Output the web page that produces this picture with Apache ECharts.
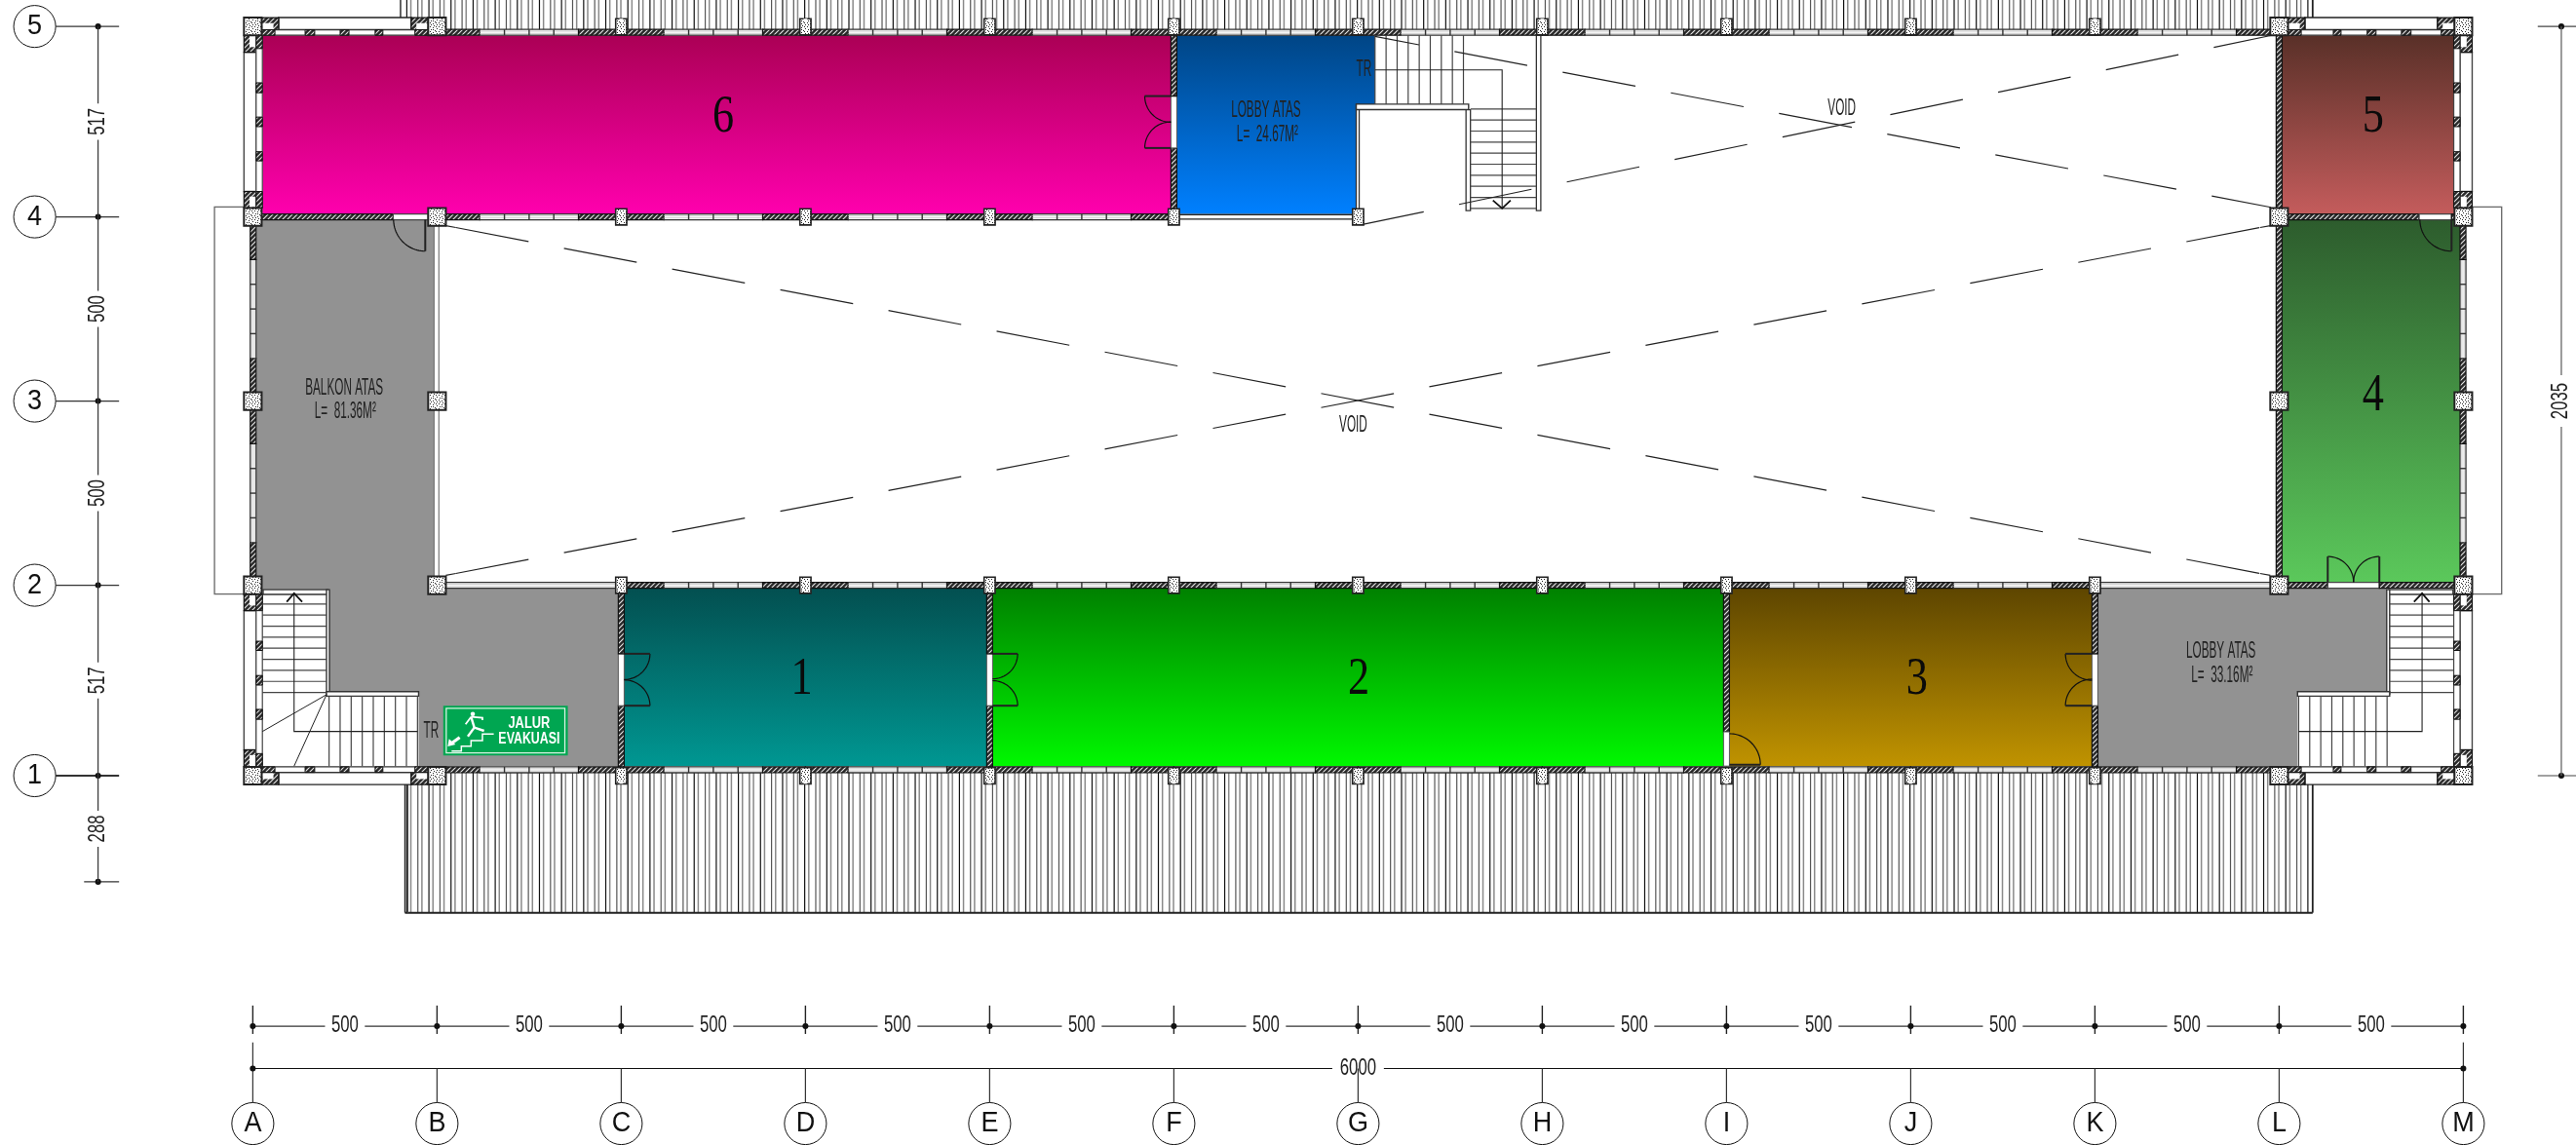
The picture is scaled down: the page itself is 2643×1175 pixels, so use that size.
<!DOCTYPE html>
<html>
<head>
<meta charset="utf-8">
<style>html,body{margin:0;padding:0;background:#fff}#c{width:2643px;height:1175px}</style>
<script src="https://cdn.jsdelivr.net/npm/echarts@6/dist/echarts.min.js"></script>
</head>
<body>
<div id="c"></div>
<script>
// ---- plan data, all in plan units (cm) with axis A = 0 and axis 1 = 0 ----
const colLabels = ['A','B','C','D','E','F','G','H','I','J','K','L','M'];
const colSpans = [500,500,500,500,500,500,500,500,500,500,500,500];
const rowLabels = ['1','2','3','4','5'];
const rowSpans = [517,500,500,517];
const overhangSpan = 288;
const totalWidthLabel = '6000';
const totalHeightLabel = '2035';

const rooms = [
  {name:'6', at:[1277,1785], pts:[[26,1525],[2492,1525],[2492,2010],[26,2010]], grad:['#ab0055','#ff00ae']},
  {name:'1', at:[1490,260], pts:[[1008,26],[1992,26],[1992,511],[1008,511]], grad:['#034f50','#009792']},
  {name:'2', at:[3002,260], pts:[[2008,26],[3992,26],[3992,511],[2008,511]], grad:['#008000','#00f800']},
  {name:'3', at:[4517,260], pts:[[4008,26],[4992,26],[4992,511],[4008,511]], grad:['#5d4500','#c09300']},
  {name:'5', at:[5755,1785], pts:[[5508,1525],[5975,1525],[5975,2010],[5508,2010]], grad:['#593028','#c45c5c']},
  {name:'4', at:[5755,1030], pts:[[5508,526],[5992,526],[5992,1510],[5508,1510]], grad:['#2d5c2d','#5bc85b']}
];
const lobbyBlue = [[2508,1525],[2995,1525],[2995,1823],[3046,1823],[3046,2010],[2508,2010]];
const lobbyBlueGrad = ['#004585','#0080ff'];
const greyFloors = [
  [[10,1510],[492,1510],[492,511],[991,511],[991,26],[450,26],[450,222],[207,222],[207,503],[10,503]],
  [[5008,26],[5550,26],[5550,222],[5792,222],[5792,511],[5008,511]]
];
const notes = [
  ['BALKON ATAS',248,1053],['L=  81.36M²',251,989],
  ['LOBBY ATAS',2750,1807],['L=  24.67M²',2754,1741],
  ['LOBBY ATAS',5342,338],['L=  33.16M²',5345,272],
  ['TR',484,120],['TR',3016,1918],
  ['VOID',2987,951],['VOID',4313,1812]
];
const voidDashes = [
  {a:[551,1488],b:[5448,549],off:0},
  {a:[551,549],b:[5448,1488],off:0},
  {a:[3015,1497],b:[5480,2010],off:13},
  {a:[3046,2007],b:[5478,1543],off:30}
];
const voidStubs = [
  [[524,1493],[551,1488]],[[5448,549],[5476,544]],
  [[524,544],[551,549]],[[5448,1488],[5476,1493]]
];
const doors = [
  {c:[468,1510],leaf:[468,1424],end:[381,1510]},
  {c:[5968,1510],leaf:[5968,1424],end:[5880,1510]},
  {c:[5632,525],leaf:[5632,595],end:[5702,525]},
  {c:[5772,525],leaf:[5772,595],end:[5702,525]},
  {c:[2492,1845],leaf:[2421,1845],end:[2492,1775]},
  {c:[2492,1704],leaf:[2421,1704],end:[2492,1775]},
  {c:[1008,331],leaf:[1078,331],end:[1008,260]},
  {c:[1008,190],leaf:[1078,190],end:[1008,260]},
  {c:[2008,331],leaf:[2076,331],end:[2008,260]},
  {c:[2008,190],leaf:[2076,190],end:[2008,260]},
  {c:[4992,331],leaf:[4920,331],end:[4992,260]},
  {c:[4992,190],leaf:[4920,190],end:[4992,260]},
  {c:[4008,30],leaf:[4092,30],end:[4008,119]}
];
const stairTreadsV = [466,436,406,376,346,316,286,256,226];
const stairTreadsU = [207,237,267,297,327,357,387,417,447];
const upperTreadsU = [3046,3076,3106,3136,3166,3196,3226,3256,3286];
const upperTreadsV = [1810,1780,1750,1720,1690,1660,1630,1600,1570,1540];

// ---- derived axes ----
const gridX = colSpans.reduce((a,s)=>(a.push(a[a.length-1]+s),a),[0]);
const gridY = rowSpans.reduce((a,s)=>(a.push(a[a.length-1]+s),a),[0]);
const X_MIN=-686.2, X_MAX=6305.8, Y_MIN=-1002.6, Y_MAX=2105.8;

// ---- fill textures ----
function hatchTile(){
  const c=document.createElement('canvas');c.width=c.height=5;
  const g=c.getContext('2d');g.fillStyle='#2a2a2a';g.fillRect(0,0,5,5);
  g.strokeStyle='#e8e8e8';g.lineWidth=1.1;
  g.beginPath();g.moveTo(-1,6);g.lineTo(6,-1);g.moveTo(-1,1);g.lineTo(1,-1);g.moveTo(4,6);g.lineTo(6,4);g.stroke();
  return {image:c,repeat:'repeat'};
}
function speckTile(){
  const rows=['#.....#..','...#.....','.......#.','.#.#.....','.....#...','#.....#..','...#.....','.#.....#.','....#....'];
  const c=document.createElement('canvas');c.width=c.height=9;
  const g=c.getContext('2d');g.fillStyle='#ffffff';g.fillRect(0,0,9,9);g.fillStyle='#222';
  rows.forEach((r,y)=>[...r].forEach((ch,x)=>{if(ch==='#')g.fillRect(x,y,1,1);}));
  return {image:c,repeat:'repeat'};
}
const HATCH=hatchTile(), SPECK=speckTile();

// ---- shape list, drawn through the cartesian axes ----
const shapes=[];
const rectPts=(a,b,c,d)=>[[a,b],[c,b],[c,d],[a,d]];
function poly(pts,fill,stroke,lw){shapes.push({t:'poly',pts,fill,stroke,lw:lw||1});}
function rect(a,b,c,d,fill,stroke,lw){poly(rectPts(a,b,c,d),fill,stroke,lw);}
function line(pts,stroke,lw,extra){shapes.push(Object.assign({t:'line',pts,stroke,lw:lw||1},extra||{}));}
function text(s,u,v,font,fill,opt){shapes.push(Object.assign({t:'text',s,u,v,font,fill},opt||{}));}
function circle(u,v,r,fill,stroke,lw){shapes.push({t:'circle',u,v,r,fill,stroke,lw:lw||0});}

const SEMI=8;

// roof sheeting
function roof(v0,v1,u0){
  for(let u=538-30*5,k=0;u<5595;u+=30,k++){
    if(u+11>=u0 && u+11<=5588) line([[u+11,v0],[u+11,v1]],'#8a8a8a',1.5);
    if(u>=u0 && u<=5588) line([[u,v0],[u,v1]],k%2?'#111':'#555',1.2);
  }
  line([[u0,v0],[u0,v1]],'#222',1.4);
  line([[5591,v0],[5591,v1]],'#222',1.8);
}
roof(2018,2106,401);
roof(16,-372,413);
line([[413,-372],[5591,-372]],'#222',2);
line([[421,16],[421,-372]],'#555',1.2);

// floors
greyFloors.forEach(p=>poly(p,'#929292'));
rooms.forEach(r=>poly(r.pts,{grad:r.grad}));
poly(lobbyBlue,{grad:lobbyBlueGrad});

// balcony rails at both ends
line([[-24,1544],[-104,1544],[-104,493],[-24,493]],'#666',1.3);
line([[6024,1544],[6104,1544],[6104,493],[6024,493]],'#666',1.3);

// wall helpers
function hHatch(a,b,vc){rect(a,vc-SEMI,b,vc+SEMI,HATCH,'#111',1.2);}
function vHatch(uc,a,b){rect(uc-SEMI,a,uc+SEMI,b,HATCH,'#111',1.2);}
function hWin(a,b,vc){
  rect(a,vc-SEMI,b,vc+SEMI,'#fff','#333',1.3);
  line([[a,vc-3],[b,vc-3]],'#bbb',0.8);line([[a,vc+3],[b,vc+3]],'#bbb',0.8);
}
function vWin(uc,a,b){
  rect(uc-SEMI,a,uc+SEMI,b,'#fff','#333',1.3);
  line([[uc-3,a],[uc-3,b]],'#bbb',0.8);line([[uc+3,a],[uc+3,b]],'#bbb',0.8);
}
function hPattern(i0,i1,vc){
  for(let i=i0;i<i1;i++){
    const g=gridX[i];
    hHatch(g,g+116,vc);
    hWin(g+116,g+384,vc);
    [183,250,317].forEach(d=>line([[g+d,vc-SEMI],[g+d,vc+SEMI]],'#333',1.4));
    hHatch(g+384,g+500,vc);
  }
}
function vPattern(uc,j0,j1){
  for(let j=j0;j<j1;j++){
    const a=gridY[j],b=gridY[j+1];
    vHatch(uc,a,a+116);
    vWin(uc,a+116,b-116);
    [183,250,317].forEach(d=>line([[uc-SEMI,a+d],[uc+SEMI,a+d]],'#333',1.4));
    vHatch(uc,b-116,b);
  }
}
function opening(uc,a,b){rect(uc-SEMI,a,uc+SEMI,b,'#fff','#555',1);}

// long walls
const ROW5=2018, ROW1=16, ROW2=gridY[1], ROW4=gridY[3];
hPattern(1,11,ROW5);
hPattern(1,11,ROW1);
hPattern(2,10,ROW2);
hPattern(1,5,ROW4);
hWin(gridX[1],gridX[2],ROW2);
hWin(gridX[10],gridX[11],ROW2);
rect(gridX[5],ROW4-6,gridX[6],ROW4+6,'#fff','#222',1.4);
hHatch(24,381,ROW4);
rect(381,ROW4-SEMI,476,ROW4+SEMI,'#fff','#444',1.2);
hHatch(5524,5880,ROW4);
rect(5880,ROW4-SEMI,5968,ROW4+SEMI,'#fff','#444',1.2);
hHatch(5968,5976,ROW4);
hHatch(5524,5632,ROW2);
rect(5632,ROW2-SEMI,5772,ROW2+SEMI,'#fff','#444',1.2);
hHatch(5772,5976,ROW2);
vPattern(1,1,3);
vPattern(5999,1,3);
rect(492,541,505,1493,'#fff','#777',1.2);
vHatch(1000,24,190);opening(1000,190,331);vHatch(1000,331,510);
vHatch(2000,24,190);opening(2000,190,331);vHatch(2000,331,510);
vHatch(4000,119,510);opening(4000,26,119);
vHatch(5000,24,190);opening(5000,190,331);vHatch(5000,331,510);
vHatch(2500,1525,1704);opening(2500,1704,1845);vHatch(2500,1845,2010);
vHatch(5500,525,2010);

// stair bays in the four corners
function bay(cx,rv,sx,sy){
  const R=(a,b,c,d,f,s,l)=>rect(cx+sx*a,rv+sy*b,cx+sx*c,rv+sy*d,f,s,l);
  R(70,-24,430,9,'#fff','#222',1.4);
  R(24,-24,70,9,HATCH,'#111',1.2);R(26,-9,56,11,'#fff');
  R(430,-24,476,9,HATCH,'#111',1.2);R(444,-9,474,11,'#fff');
  R(24,9,476,24,'#fff','#333',1.2);
  [[24,60],[142,168],[237,261],[332,353],[440,476]].forEach(p=>R(p[0],9,p[1],24,HATCH,'#111',1));
  R(-24,70,9,448,'#fff','#444',1.4);
  R(-24,24,9,70,HATCH,'#111',1.2);R(-9,26,11,56,'#fff');
  R(-24,448,9,493,HATCH,'#111',1.2);R(-9,462,11,490,'#fff');
  R(9,24,26,493,'#fff','#444',1.2);
  [[24,60],[153,180],[246,272],[340,365],[448,493]].forEach(p=>R(9,p[0],26,p[1],HATCH,'#111',1));
}
bay(0,0,1,1);bay(0,gridY[4],1,-1);bay(6000,0,-1,1);bay(6000,gridY[4],-1,-1);

// lower stairs, mirrored
function stair(mx){
  const M=u=>mx?6000-u:u, ink='#222';
  rect(M(28),492,M(204),505,'#fff','#333',1.4);
  rect(M(200),222,M(208),505,'#fff','#333',1.4);
  rect(M(200),216,M(450),228,'#fff','#333',1.4);
  stairTreadsV.forEach(v=>line([[M(26),v],[M(200),v]],'#444',1.2));
  stairTreadsU.forEach(u=>line([[M(u),26],[M(u),216]],'#444',1.2));
  line([[M(112),495],[M(112),120],[M(447),120]],ink,1.1);
  line([[M(92),472],[M(112),495],[M(134),472]],'#111',1.8);
  if(!mx){
    line([[M(200),220],[M(26),120]],ink,1);
    line([[M(200),220],[M(112),26]],ink,1);
  }
}
stair(false);stair(true);

// upper stair
rect(2995,1530,3003,1823,'#fff','#333',1.3);
rect(2995,1808,3300,1823,'#fff','#333',1.4);
rect(3293,1534,3305,1808,'#fff','#333',1.3);
rect(3484,1534,3496,2010,'#fff','#333',1.3);
upperTreadsU.forEach(u=>line([[u,1823],[u,2010]],'#444',1.2));
upperTreadsV.forEach(v=>line([[3305,v],[3484,v]],'#444',1.2));
line([[3046,1916],[3391,1916],[3391,1540]],'#222',1.1);
line([[3366,1562],[3391,1540],[3414,1562]],'#111',1.8);

// columns
function bigColumn(u,v){rect(u-24,v-24,u+24,v+24,SPECK,'#222',2);}
function smallColumn(u,v,notch){
  rect(u-15,v-22,u+15,v+22,SPECK,'#222',1.6);
  if(notch) rect(u-5,v+notch*14,u+5,v+notch*22,'#fff');
}
[0,1,11,12].forEach(i=>gridY.forEach(v=>{
  bigColumn(gridX[i],v);
}));
for(let i=2;i<=10;i++){
  smallColumn(gridX[i],gridY[4]-1,1);
  smallColumn(gridX[i],gridY[1]);
  smallColumn(gridX[i],0,-1);
}
for(let i=2;i<=6;i++) smallColumn(gridX[i],gridY[3]);

// doors
doors.forEach(d=>{
  const r=Math.hypot(d.leaf[0]-d.c[0],d.leaf[1]-d.c[1]);
  const a0=Math.atan2(d.leaf[1]-d.c[1],d.leaf[0]-d.c[0]);
  let a1=Math.atan2(d.end[1]-d.c[1],d.end[0]-d.c[0]);
  let da=a1-a0; if(da>Math.PI)da-=2*Math.PI; if(da<-Math.PI)da+=2*Math.PI;
  const pts=[];for(let k=0;k<=24;k++){const t=a0+da*k/24;pts.push([d.c[0]+r*Math.cos(t),d.c[1]+r*Math.sin(t)]);}
  line(pts,'#111',1.2);
  line([d.c,d.leaf],'#222',2);
});

// void crosses
voidDashes.forEach(d=>line([d.a,d.b],'#222',1.2,{dash:[76,37],off:d.off}));
voidStubs.forEach(p=>line(p,'#222',1.2));

// evacuation sign
rect(517,55,855,190,'#00a651');
rect(525,62,847,183,null,'#d8f3e2',1.3);
text('JALUR',750,141,'bold 16.5px "Liberation Sans"','#fff',{sx:0.78});
text('EVAKUASI',750,100,'bold 16.5px "Liberation Sans"','#fff',{sx:0.75});
circle(597,167.5,6,'#fff');
line([[592.4,159.6],[601.2,130.6],[627.7,121.7]],'#fff',2.4);
line([[601.2,130.6],[583.6,106.7]],'#fff',2.4);
line([[592.4,159.6],[623.3,157],[623.3,151]],'#fff',1.8);
line([[592.4,159.6],[577.4,139.4]],'#fff',1.8);
line([[539.5,67],[566,67],[566,80.3],[592.4,80.3],[592.4,95.3],[623.3,95.3],[623.3,113],[654,113]],'#fff',1.5);
line([[561.5,104],[539.5,88]],'#fff',3.2);
poly([[529,79.4],[532.5,99.7],[550.2,84.7]],'#fff');

// room numbers and notes
rooms.forEach(r=>text(r.name,r.at[0],r.at[1],'54px "Liberation Serif"','#0a0a0a',{sx:0.82}));
const noteFont='24px "Liberation Sans"';
notes.forEach(n=>text(n[0],n[1],n[2],noteFont,'#222',{sx:0.49}));

// dimension strings
const DIM='#333', dimFont='23px "Liberation Sans"', DIM_SX=0.73;
const LEFT_DIM=-420, RIGHT_DIM=6266, SPAN_DIM=-680, TOTAL_DIM=-795, BUBBLE_V=-944.5, BUBBLE_U=-592, RADIUS=57;
const dot=(u,v)=>circle(u,v,8,'#111');
const levels=[-overhangSpan,...gridY];
levels.forEach((v,i)=>{
  line([[i===0?LEFT_DIM-38:BUBBLE_U+RADIUS,v],[LEFT_DIM+57,v]],'#333',i===1?2:1.3);
  dot(LEFT_DIM,v);
});
levels.slice(1).forEach((v,i)=>{
  const lo=levels[i], mid=(lo+v)/2, label=i===0?overhangSpan:rowSpans[i-1];
  line([[LEFT_DIM,lo],[LEFT_DIM,mid-49]],DIM,1.2);
  line([[LEFT_DIM,mid+49],[LEFT_DIM,v]],DIM,1.2);
  text(String(label),LEFT_DIM,mid,dimFont,'#222',{sx:DIM_SX,rot:Math.PI/2});
});
rowLabels.forEach((l,i)=>{
  circle(BUBBLE_U,gridY[i],RADIUS,'#fff','#111',1);
  text(l,BUBBLE_U,gridY[i],'30px "Liberation Sans"','#111',{sx:0.9});
});
// right-hand total height
[0,gridY[4]].forEach(v=>{line([[RIGHT_DIM-64,v],[X_MAX,v]],'#444',1.2);dot(RIGHT_DIM,v);});
const hMid=gridY[4]/2;
line([[RIGHT_DIM,0],[RIGHT_DIM,hMid-70]],'#666',1.3);
line([[RIGHT_DIM,hMid+70],[RIGHT_DIM,gridY[4]]],'#666',1.3);
text(totalHeightLabel,RIGHT_DIM,hMid,dimFont,'#222',{sx:DIM_SX,rot:Math.PI/2});
// bottom spans
colSpans.forEach((s,i)=>{
  const a=gridX[i],b=gridX[i+1],m=(a+b)/2;
  line([[a,SPAN_DIM],[m-54,SPAN_DIM]],DIM,1.3);
  line([[m+54,SPAN_DIM],[b,SPAN_DIM]],DIM,1.3);
  text(String(s),m,SPAN_DIM,dimFont,'#222',{sx:DIM_SX});
});
gridX.forEach(u=>{
  line([[u,-624],[u,-701]],'#222',1.4);
  dot(u,SPAN_DIM);
});
line([[0,TOTAL_DIM],[2930,TOTAL_DIM]],'#111',1.1);
line([[3070,TOTAL_DIM],[6000,TOTAL_DIM]],'#111',1.1);
gridX.forEach((u,i)=>{
  const edge=i===0||i===12;
  line([[u,edge?-724:TOTAL_DIM],[u,BUBBLE_V+RADIUS]],'#333',1.2);
});
dot(0,TOTAL_DIM);dot(6000,TOTAL_DIM);
text(totalWidthLabel,3000,TOTAL_DIM,dimFont,'#222',{sx:DIM_SX});
colLabels.forEach((l,i)=>{
  circle(gridX[i],BUBBLE_V,RADIUS,'#fff','#111',1);
  text(l,gridX[i],BUBBLE_V,'30px "Liberation Sans"','#111',{sx:0.9});
});

// ---- chart ----
function renderShape(params,api){
  const s=shapes[params.dataIndex], z2=params.dataIndex;
  const map=p=>api.coord(p);
  if(s.t==='poly'){
    let fill=s.fill||'none';
    if(fill&&fill.grad) fill=new echarts.graphic.LinearGradient(0,0,0,1,[{offset:0,color:fill.grad[0]},{offset:1,color:fill.grad[1]}]);
    return {type:'polygon',z2,shape:{points:s.pts.map(map)},style:{fill,stroke:s.stroke||'none',lineWidth:s.lw}};
  }
  if(s.t==='line'){
    const style={fill:'none',stroke:s.stroke,lineWidth:s.lw};
    if(s.dash){style.lineDash=s.dash;style.lineDashOffset=s.off||0;}
    return {type:'polyline',z2,shape:{points:s.pts.map(map)},style};
  }
  if(s.t==='circle'){
    const c=map([s.u,s.v]), r=api.size([s.r,0])[0];
    return {type:'circle',z2,shape:{cx:c[0],cy:c[1],r},style:{fill:s.fill||'none',stroke:s.stroke||'none',lineWidth:s.lw}};
  }
  const c=map([s.u,s.v]);
  return {type:'text',z2,x:c[0],y:c[1],rotation:s.rot||0,scaleX:s.sx||1,
    style:{text:s.s,font:s.font,fill:s.fill,textAlign:'center',textVerticalAlign:'middle'}};
}
const chart=echarts.init(document.getElementById('c'),null,{renderer:'canvas'});
chart.setOption({
  animation:false,
  backgroundColor:'#fff',
  grid:{left:0,right:0,top:0,bottom:0},
  xAxis:{type:'value',min:X_MIN,max:X_MAX,show:false},
  yAxis:{type:'value',min:Y_MIN,max:Y_MAX,show:false},
  series:[{type:'custom',coordinateSystem:'cartesian2d',clip:false,silent:true,progressive:0,
    renderItem:renderShape,data:shapes.map((s,i)=>[i])}]
});
</script>
</body>
</html>
